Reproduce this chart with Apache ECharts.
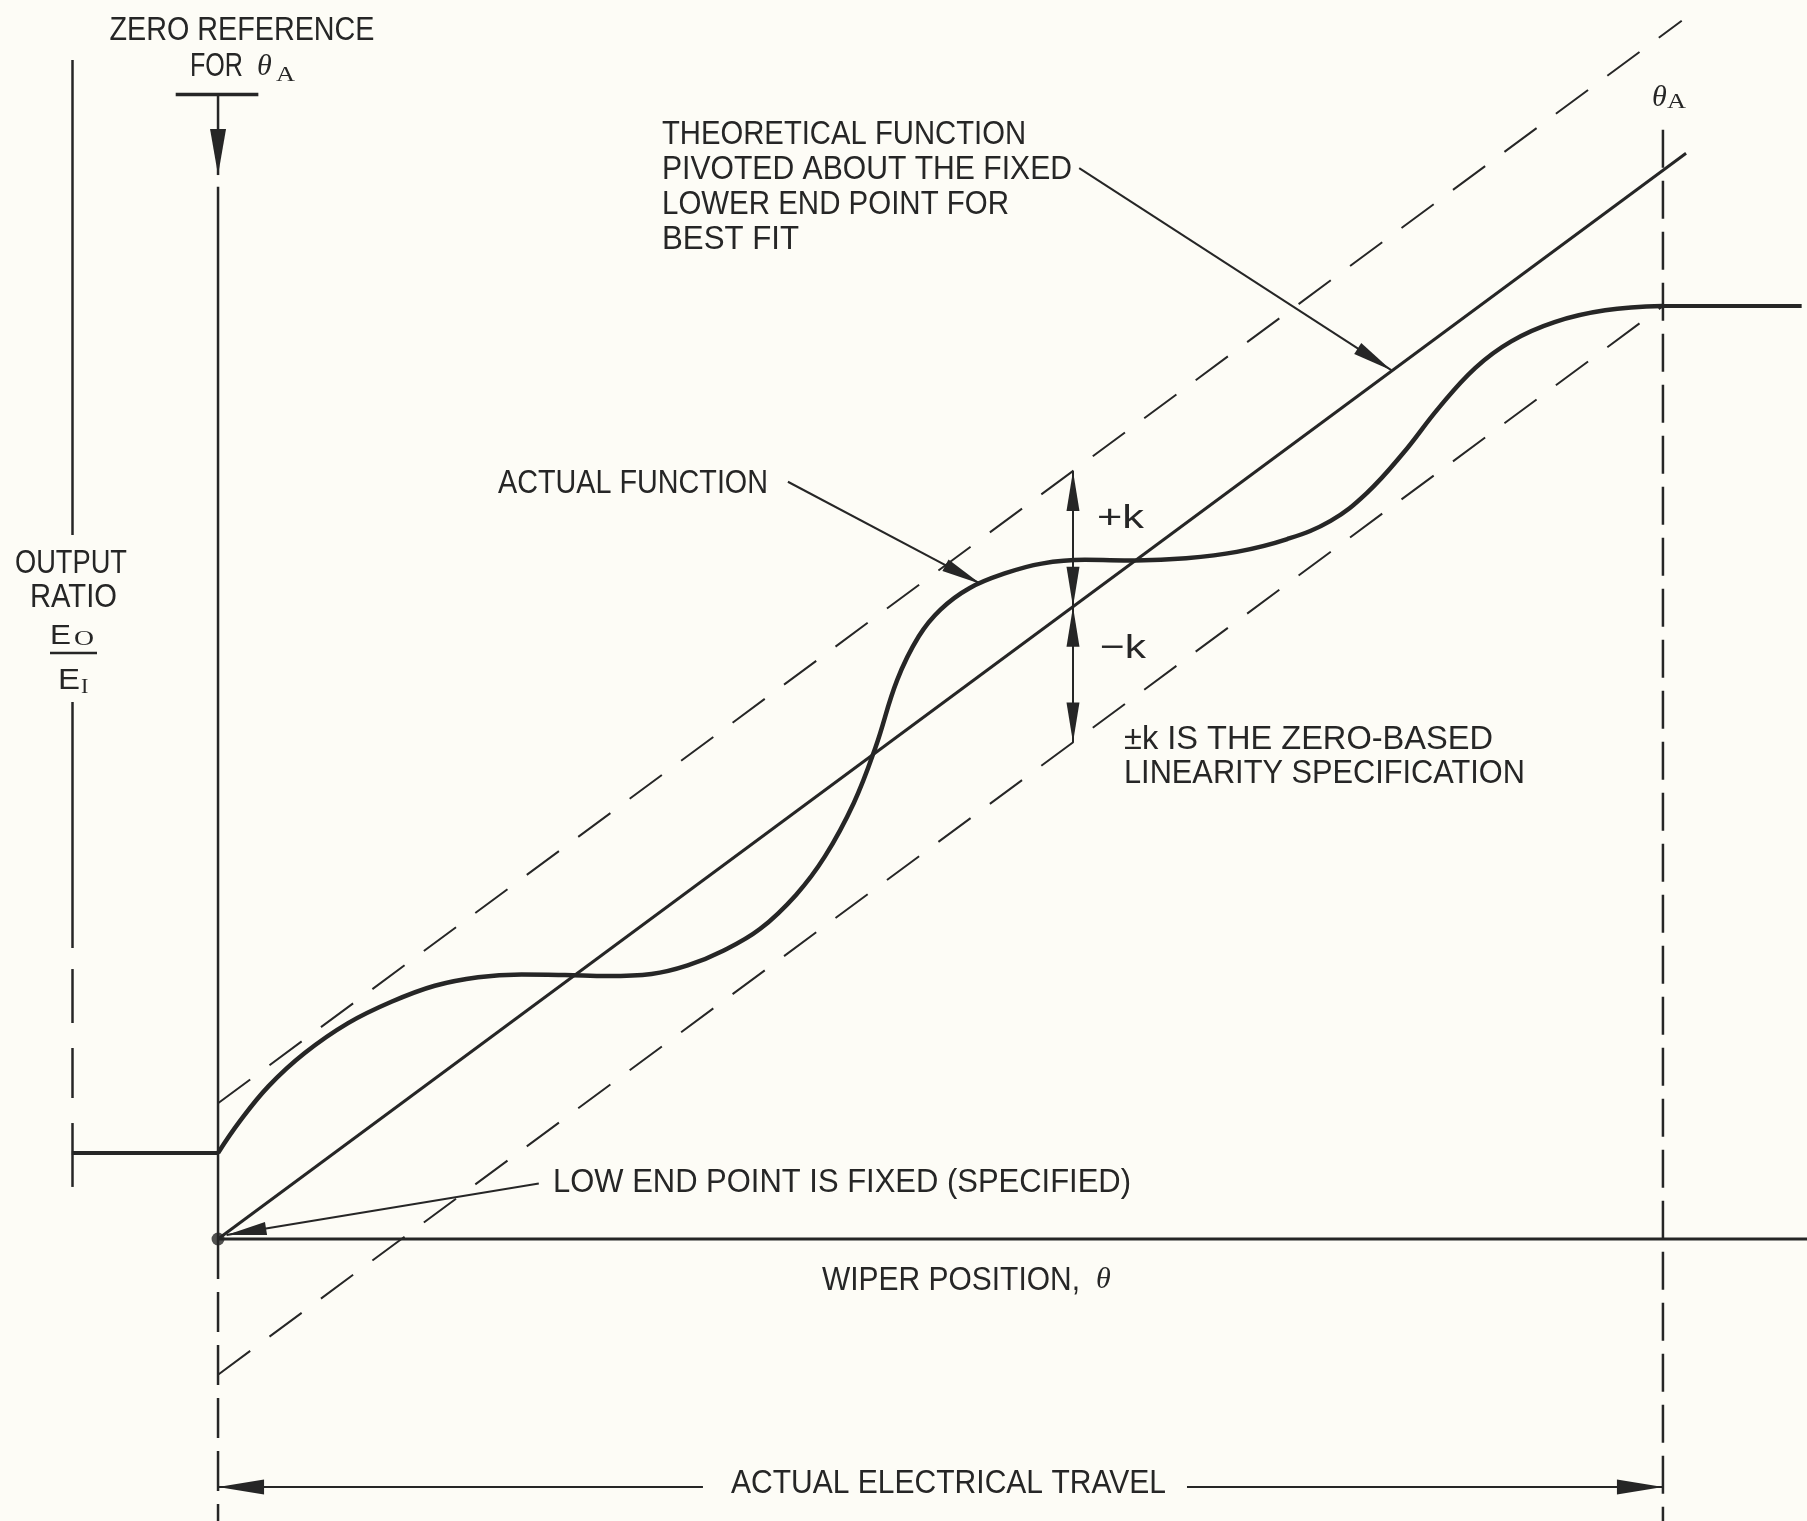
<!DOCTYPE html>
<html>
<head>
<meta charset="utf-8">
<script src="https://cdn.jsdelivr.net/npm/echarts@6/dist/echarts.min.js"></script>
<style>
html,body{margin:0;padding:0;background:#fdfcf6;}
#c{width:1807px;height:1521px;}
</style>
</head>
<body>
<div id="c"></div>
<script>
// ---------------- DATA (wiper position: 0 = zero reference, 100 = thetaA;
// output ratio: 100 = theoretical value at thetaA) ----------------
const actualX = [0, 1.5, 3.5, 6, 9, 12, 15, 18, 21, 24, 27, 30, 32.5, 35, 37.5, 40, 42, 44, 45.5, 47, 48.5, 50, 52, 54.5, 57, 60, 63.5, 67, 70.5, 74, 77, 79.5, 82, 84.5, 87, 89.5, 92.5, 96, 100];
const actualY = [8.05, 11.0, 14.3, 17.4, 20.2, 22.2, 23.7, 24.5, 24.75, 24.7, 24.6, 24.8, 25.6, 27.0, 29.0, 32.2, 35.8, 40.8, 46.0, 52.3, 56.4, 58.9, 60.9, 62.3, 63.2, 63.55, 63.5, 63.7, 64.3, 65.5, 67.2, 69.8, 73.5, 77.8, 81.5, 84.0, 85.8, 86.9, 87.3];
const lowFlatX = [-10.12, 0];
const lowFlatY = [8.05, 8.05];
const highFlatX = [100, 109.6];
const highFlatY = [87.3, 87.3];
const theoreticalX = [0, 101.6];
const theoreticalY = [0, 101.6];
const upperBandX = [0, 101.3];
const upperBandY = [12.7, 114.0];
const lowerBandX = [0, 100];
const lowerBandY = [-12.7, 87.3];
const kX = 59.17;
const kLevels = [71.87, 59.17, 46.47]; // +k, theoretical, -k
const wiperAxisX = [0, 109.97];
const wiperAxisY = [0, 0];
const outputAxisX = -10.12;
const outputAxisRuns = [[110.32, 65.87], [50.25, 27.23], [25.26, 20.21], [17.87, 13.19], [10.85, 4.87]];
const zeroRefSolid = [98.47, 0];
const zeroRefDashed = [0, -26.39];
const thetaAX = 100;
const thetaARun = [103.8, -26.39];
const zeroRefBarX = [-2.93, 2.79];
const zeroRefBarY = 107.1;
const zeroRefArrow = [[0, 107.1, 0, 99.56, 0, 1]];
const leaderArrows = [
  [59.6, 100.2, 81.2, 81.3, 0, 1],   // theoretical function
  [39.44, 70.86, 52.79, 61.3, 0, 1], // actual function
  [22.2, 5.2, 0.59, 0.37, 0, 1]      // low end point
];
const travelY = -23.2;
const travelArrows = [[33.56, travelY, 0, travelY, 0, 1], [67.06, travelY, 100, travelY, 0, 1]];
const kArrows = [[kX, kLevels[1], kX, kLevels[0], 1, 1], [kX, kLevels[1], kX, kLevels[2], 1, 1]];

// ---------------- STYLE / LAYOUT ----------------
const INK = '#262626';
const SANS = '"Liberation Sans", Arial, sans-serif';
const SERIF = '"Liberation Serif", "DejaVu Serif", serif';
const X_MIN = -15.09, X_MAX = 109.97, Y_MIN = -26.39, Y_MAX = 115.94;

function pairs(xs, ys) { return xs.map((x, i) => [x, ys[i]]); }
function lineS(data, width, type, extra) {
  return Object.assign({
    type: 'line', data: data, symbol: 'none', silent: true, smooth: false,
    lineStyle: { color: INK, width: width, type: type || 'solid', cap: 'butt' }, z: 3
  }, extra || {});
}
function arrowSeries(data, headLen, headHalf, width) {
  return {
    type: 'custom', coordinateSystem: 'cartesian2d', data: data, silent: true, z: 6,
    encode: { x: [0, 2], y: [1, 3] },
    renderItem: function (params, api) {
      const p1 = api.coord([api.value(0), api.value(1)]);
      const p2 = api.coord([api.value(2), api.value(3)]);
      const children = [{ type: 'line', shape: { x1: p1[0], y1: p1[1], x2: p2[0], y2: p2[1] }, style: { stroke: INK, lineWidth: width } }];
      const head = function (tip, from) {
        const dx = tip[0] - from[0], dy = tip[1] - from[1], l = Math.hypot(dx, dy) || 1;
        const ux = dx / l, uy = dy / l;
        const bx = tip[0] - ux * headLen, by = tip[1] - uy * headLen;
        return { type: 'polygon', shape: { points: [[tip[0], tip[1]], [bx - uy * headHalf, by + ux * headHalf], [bx + uy * headHalf, by - ux * headHalf]] }, style: { fill: INK } };
      };
      if (api.value(4)) children.push(head(p1, p2));
      if (api.value(5)) children.push(head(p2, p1));
      return { type: 'group', children: children };
    }
  };
}

// text measuring for the condensed drafting lettering
const mctx = document.createElement('canvas').getContext('2d');
function measure(text, size, family, style) {
  mctx.font = (style || '') + ' ' + size + 'px ' + family;
  return mctx.measureText(text).width;
}
function label(text, x, y, align, targetW, size, family, fstyle) {
  size = size || 34; family = family || SANS;
  const w = measure(text, size, family, fstyle);
  const sx = targetW ? targetW / w : 1;
  return {
    type: 'text', x: x, y: y, scaleX: sx, silent: true, z: 100,
    style: {
      text: text, fontSize: size, fontFamily: family, fontStyle: fstyle || 'normal', fill: INK,
      textAlign: align, textVerticalAlign: 'middle', align: align, verticalAlign: 'middle'
    }
  };
}

const texts = [
  label('ZERO REFERENCE', 242, 31, 'center', 265),
  label('FOR', 190, 67, 'left', 53),
  label('\u03B8', 257, 67, 'left', null, 30, SERIF, 'italic'),
  label('A', 276, 75, 'left', 19, 21, SERIF),
  label('\u03B8', 1652, 98, 'left', null, 30, SERIF, 'italic'),
  label('A', 1667, 102.5, 'left', 19, 21, SERIF),
  label('THEORETICAL FUNCTION', 662, 135, 'left', 364),
  label('PIVOTED ABOUT THE FIXED', 662, 169.5, 'left', 410),
  label('LOWER END POINT FOR', 662, 204.5, 'left', 347),
  label('BEST FIT', 662, 239.5, 'left', 137),
  label('ACTUAL FUNCTION', 498, 484, 'left', 270),
  label('+k', 1097, 519, 'left', 47),
  label('\u2212k', 1100, 649, 'left', 46),
  label('\u00B1k IS THE ZERO-BASED', 1124, 740, 'left', 369),
  label('LINEARITY SPECIFICATION', 1124, 774, 'left', 401),
  label('LOW END POINT IS FIXED (SPECIFIED)', 553, 1183, 'left', 578),
  label('WIPER POSITION,', 822, 1281, 'left', 258),
  label('\u03B8', 1096, 1280, 'left', null, 30, SERIF, 'italic'),
  label('ACTUAL ELECTRICAL TRAVEL', 731, 1484, 'left', 435),
  label('OUTPUT', 71, 564, 'center', 112),
  label('RATIO', 73.5, 597.5, 'center', 87),
  label('E', 50, 636, 'left', 21, 28),
  label('O', 74, 640, 'left', 20, 20, SERIF),
  label('E', 58, 681, 'left', 22, 30),
  label('I', 81, 687, 'left', null, 22, SERIF),
  { type: 'line', silent: true, z: 100, shape: { x1: 50, y1: 653, x2: 97, y2: 653 }, style: { stroke: INK, lineWidth: 2.5 } }
];

const chart = echarts.init(document.getElementById('c'), null, { renderer: 'canvas', width: 1807, height: 1521 });
chart.setOption({
  animation: false,
  backgroundColor: '#fdfcf6',
  grid: { left: 0, right: 0, top: 0, bottom: 0 },
  xAxis: { type: 'value', min: X_MIN, max: X_MAX, show: false },
  yAxis: { type: 'value', min: Y_MIN, max: Y_MAX, show: false },
  series: [
    {
      type: 'lines', coordinateSystem: 'cartesian2d', silent: true, z: 2,
      data: outputAxisRuns.map(r => ({ coords: [[outputAxisX, r[0]], [outputAxisX, r[1]]] })),
      lineStyle: { color: INK, width: 2.5, opacity: 1, curveness: 0 }
    },
    lineS(pairs(wiperAxisX, wiperAxisY), 3),
    lineS([[0, zeroRefSolid[0]], [0, zeroRefSolid[1]]], 2.5),
    lineS([[0, zeroRefDashed[0]], [0, zeroRefDashed[1]]], 2.5, [40, 13]),
    lineS([[thetaAX, thetaARun[0]], [thetaAX, thetaARun[1]]], 2.5, [38, 13]),
    lineS([[zeroRefBarX[0], zeroRefBarY], [zeroRefBarX[1], zeroRefBarY]], 3.5),
    lineS(pairs(theoreticalX, theoreticalY), 3),
    lineS(pairs(upperBandX, upperBandY), 2, [40, 24]),
    lineS(pairs(lowerBandX, lowerBandY), 2, [40, 24]),
    lineS(pairs(lowFlatX, lowFlatY), 4),
    lineS(pairs(highFlatX, highFlatY), 4),
    lineS(pairs(actualX, actualY), 4.5, 'solid', { smooth: 0.4 }),
    { type: 'scatter', data: [[0, 0]], symbolSize: 13, itemStyle: { color: INK }, silent: true, z: 7 },
    arrowSeries(zeroRefArrow, 46, 8, 2.5),
    arrowSeries(leaderArrows, 40, 6.5, 2),
    arrowSeries(kArrows, 40, 6.5, 2),
    arrowSeries(travelArrows, 46, 7.5, 2)
  ],
  graphic: { elements: texts }
});
</script>
</body>
</html>
